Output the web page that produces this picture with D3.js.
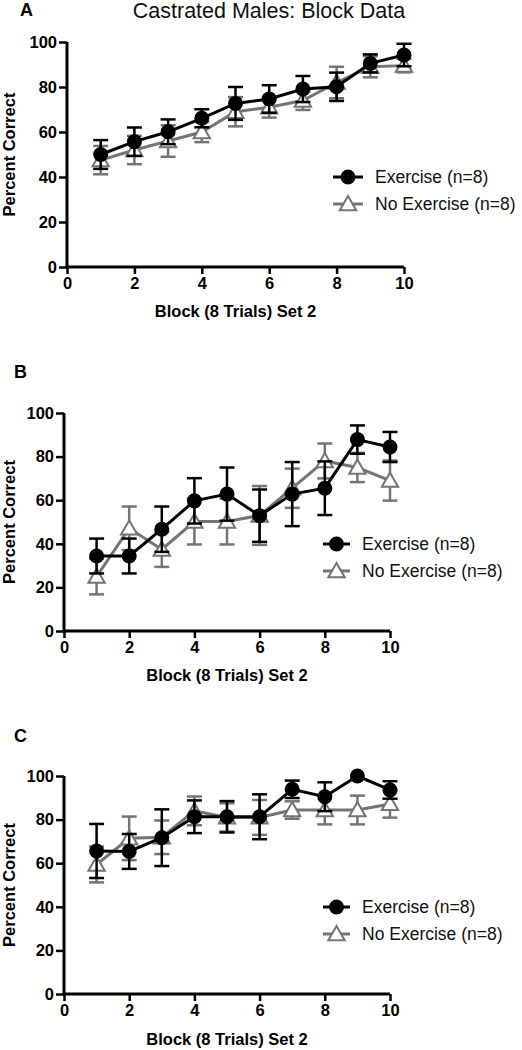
<!DOCTYPE html>
<html><head><meta charset="utf-8">
<script src="https://cdn.jsdelivr.net/npm/d3@7"></script>
<style>
html,body{margin:0;padding:0;background:#fff;}
svg{display:block;font-family:"Liberation Sans",Arial,sans-serif;}
</style></head>
<body>
<svg id="chart" width="522" height="1050"></svg>
<script>
// ---- data ----
const blocks = [1,2,3,4,5,6,7,8,9,10];
const xTicks = [0,2,4,6,8,10];
const yTicks = [0,20,40,60,80,100];
const seriesNames = ["Exercise (n=8)", "No Exercise (n=8)"];
const panelLabels = ["A","B","C"];
const chartTitle = "Castrated Males: Block Data";
const xTitle = "Block (8 Trials) Set 2";
const yTitle = "Percent Correct";

const exA   = [50,55.7,60.1,66.1,72.7,74.7,79.1,80.1,90.5,94.2];
const exAErr= [6.4,6.3,5.5,4,7.3,6.1,5.8,6.3,4,5];
const noA   = [47.5,52,56,60,69,71,74,82,89,89.5];
const noAErr= [6.3,6.3,7,4.5,6.5,4.6,4.2,7,4.7,3];

const exB   = [34.4,34.4,46.7,59.7,62.8,52.9,62.8,65.5,87.8,84.4];
const exBErr= [8,8,10.4,10.4,12.2,12,14.7,12.3,6.5,6.9];
const noB   = [25,47.1,37.4,50.2,50.2,53,65.5,78,75,69];
const noBErr= [8.2,10,8,10.5,10.5,13.5,9,8,6.7,9.2];

const exC   = [65.6,65.4,71.7,81.3,81.3,81.3,93.9,90.5,100,93.6];
const exCErr= [12.4,8,13,7.5,7.2,10.3,4,6.6,0,4];
const noC   = [59.4,71.4,71.9,84,81,81,84.4,84.4,84.4,87.2];
const noCErr= [8.2,10,7.7,6.6,6.5,8,4,6.6,6.6,6.3];

// ---- layout ----
const panels = [
  {label:panelLabels[0], ex:exA, exErr:exAErr, no:noA, noErr:noAErr,
   l:67, r:404, t:42, b:267, lab:[20,16], leg:[333,363,375,177,204], xt:317},
  {label:panelLabels[1], ex:exB, exErr:exBErr, no:noB, noErr:noBErr,
   l:64, r:390, t:413, b:631, lab:[14,378], leg:[323,350,362,544,571], xt:681},
  {label:panelLabels[2], ex:exC, exErr:exCErr, no:noC, noErr:noCErr,
   l:64, r:390, t:776, b:994, lab:[14,742], leg:[323,350,362,907,934], xt:1045}
];
const BLACK = "#000", GRAY = "#747474";
const svg = d3.select("#chart");

svg.append("text").attr("x",269).attr("y",18).attr("text-anchor","middle")
  .attr("font-size",21.5).attr("fill","#111").text(chartTitle);

const tri = d3.symbol().type(d3.symbolTriangle).size(115);

panels.forEach(p => {
  const g = svg.append("g");
  const x = d3.scaleLinear().domain([0,10]).range([p.l,p.r]);
  const y = d3.scaleLinear().domain([0,100]).range([p.b,p.t]);

  g.append("text").attr("x",p.lab[0]).attr("y",p.lab[1])
    .attr("font-size",18).attr("font-weight","bold").text(p.label);

  // axes
  const ya = g.append("g").attr("transform",`translate(${p.l},0)`)
    .call(d3.axisLeft(y).tickValues(yTicks).tickSize(8).tickPadding(2));
  const xa = g.append("g").attr("transform",`translate(0,${p.b})`)
    .call(d3.axisBottom(x).tickValues(xTicks).tickSize(7).tickPadding(3));
  [ya,xa].forEach(a=>{
    a.selectAll("path").attr("stroke","#000").attr("stroke-width",3);
    a.selectAll("line").attr("stroke","#000").attr("stroke-width",2.5);
    a.selectAll("text").attr("font-size",16.5).attr("font-weight","bold")
      .attr("fill","#000").attr("font-family","Liberation Sans, Arial, sans-serif");
  });
  ya.select(".domain").attr("d",`M0,${p.b+1.5}V${p.t}`);
  xa.select(".domain").attr("d",`M${p.l},0H${p.r}`);

  g.append("text").attr("x",(p.l+p.r)/2).attr("y",p.xt).attr("text-anchor","middle")
    .attr("font-size",16.5).attr("font-weight","bold").text(xTitle);
  g.append("text").attr("transform",`translate(15,${(p.t+p.b)/2}) rotate(-90)`)
    .attr("text-anchor","middle").attr("font-size",16.5).attr("font-weight","bold").text(yTitle);

  const line = d3.line().x((d,i)=>x(blocks[i])).y(d=>y(d));
  const drawSeries = (vals, errs, color, isTri) => {
    const s = g.append("g");
    vals.forEach((v,i)=>{
      if (errs[i] <= 0) return;
      const cx = x(blocks[i]);
      s.append("line").attr("x1",cx).attr("x2",cx).attr("y1",y(v-errs[i])).attr("y2",y(v+errs[i]))
        .attr("stroke",color).attr("stroke-width",2.5);
      [v-errs[i], v+errs[i]].forEach(e=>{
        s.append("line").attr("x1",cx-7.5).attr("x2",cx+7.5).attr("y1",y(e)).attr("y2",y(e))
          .attr("stroke",color).attr("stroke-width",2.5);
      });
    });
    s.append("path").attr("d",line(vals)).attr("fill","none").attr("stroke",color).attr("stroke-width",3);
    vals.forEach((v,i)=>{
      if (isTri) {
        s.append("path").attr("d",tri).attr("transform",`translate(${x(blocks[i])},${y(v)+1.5})`)
          .attr("fill","#fff").attr("stroke",color).attr("stroke-width",2);
      } else {
        s.append("circle").attr("cx",x(blocks[i])).attr("cy",y(v)).attr("r",7.5).attr("fill",color);
      }
    });
  };
  drawSeries(p.no, p.noErr, GRAY, true);
  drawSeries(p.ex, p.exErr, BLACK, false);

  // legend
  const [l1,l2,tx,r1,r2] = p.leg;
  const mid = (l1+l2)/2;
  g.append("line").attr("x1",l1).attr("x2",l2).attr("y1",r1).attr("y2",r1).attr("stroke",BLACK).attr("stroke-width",3);
  g.append("circle").attr("cx",mid).attr("cy",r1).attr("r",7.5).attr("fill",BLACK);
  g.append("text").attr("x",tx).attr("y",r1+6).attr("font-size",17.5).attr("fill","#111").text(seriesNames[0]);
  g.append("line").attr("x1",l1).attr("x2",l2).attr("y1",r2).attr("y2",r2).attr("stroke",GRAY).attr("stroke-width",3);
  g.append("path").attr("d",tri).attr("transform",`translate(${mid},${r2+1.5})`)
    .attr("fill","#fff").attr("stroke",GRAY).attr("stroke-width",2);
  g.append("text").attr("x",tx).attr("y",r2+6).attr("font-size",17.5).attr("fill","#111").text(seriesNames[1]);
});
</script>
</body></html>
